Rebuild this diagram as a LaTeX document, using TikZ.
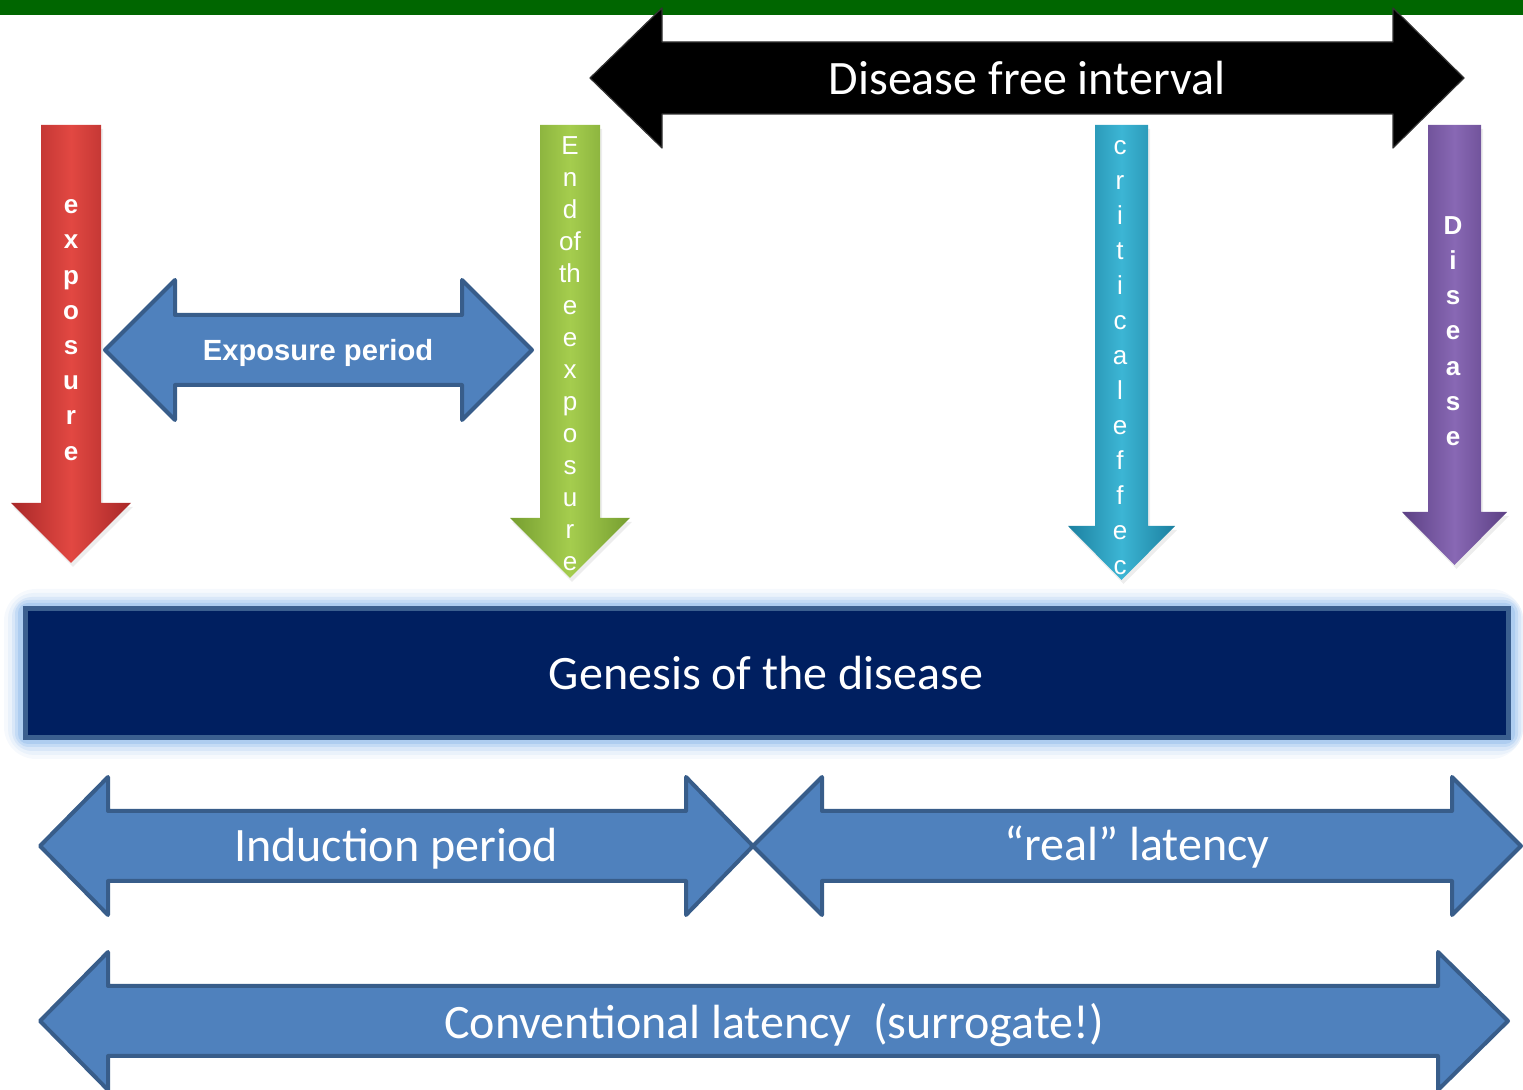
\documentclass[tikz,border=0pt]{standalone}
\usepackage{fontspec}
\setmainfont{Carlito}
\newfontfamily\arialf{Liberation Sans}
\definecolor{topgreen}{RGB}{0,102,0}
\definecolor{blfill}{RGB}{79,129,189}
\definecolor{bldraw}{RGB}{56,93,138}
\definecolor{navy}{RGB}{0,31,96}
\definecolor{navyedge}{RGB}{59,95,143}
\definecolor{glowc}{RGB}{160,196,238}
\definecolor{redA}{RGB}{226,72,66}
\definecolor{redB}{RGB}{168,40,40}
\definecolor{grnA}{RGB}{165,205,78}
\definecolor{grnB}{RGB}{118,158,48}
\definecolor{cyaA}{RGB}{60,182,212}
\definecolor{cyaB}{RGB}{28,128,160}
\definecolor{purA}{RGB}{136,104,180}
\definecolor{purB}{RGB}{92,64,132}
\newcommand\DArrow[8]{\path[#1] (#2,#6) -- (#3,#6-#7) -- (#3,#6-#8) -- (#4,#6-#8) -- (#4,#6-#7) -- (#5,#6) -- (#4,#6+#7) -- (#4,#6+#8) -- (#3,#6+#8) -- (#3,#6+#7) -- cycle;}
\newcommand\VArrow[8]{\path[#1] (#2,#4) -- (#3,#4) -- (#3,#5) -- (#7,#5) -- ({(#2+#3)/2},#8) -- (#6,#5) -- (#2,#5) -- cycle;}
\tikzset{
  bluearrow/.style={fill=blfill,draw=bldraw,line width=2pt,line join=round},
  blackarrow/.style={fill=black,draw=black!80,line width=0.6pt,line join=round},
  shadowarr/.style={fill=black,opacity=0.07},
  bigtext/.style={text=white,font=\fontsize{24}{28}\selectfont,inner sep=0pt},
  vtextb/.style={text=white,align=center,inner sep=0pt,font=\arialf\bfseries\fontsize{13}{17.6}\selectfont},
  vtextn/.style={text=white,align=center,inner sep=0pt,font=\arialf\fontsize{13}{16}\selectfont},
}
\begin{document}
\begin{tikzpicture}[x=0.5pt,y=-0.5pt]
\useasboundingbox (0,0) rectangle (1523,1090);
\clip (0,0) rectangle (1523,1090);
% top green bar
\fill[topgreen] (0,0) rectangle (1523,15);
% black double arrow
\DArrow{blackarrow}{590}{662}{1393}{1464}{78}{70}{36}
\node[bigtext] (dfi) at (1027,78) {Disease free interval};
% vertical arrows: shadows
\VArrow{shadowarr,shift={(1pt,-2pt)}}{41}{101}{125}{503}{11}{131}{563}
\VArrow{shadowarr,shift={(1pt,-2pt)}}{540}{600}{125}{518}{510}{630}{578}
\VArrow{shadowarr,shift={(1pt,-2pt)}}{1095}{1148}{125}{526}{1068}{1175}{580}
\VArrow{shadowarr,shift={(1pt,-2pt)}}{1428}{1481}{125}{512}{1402}{1507}{565}
% red
\VArrow{left color=redB,right color=redB,middle color=redA,line join=round}{41}{101}{125}{503}{11}{131}{563}
\node[vtextb] (expo) at (71,330) {e\\x\\p\\o\\s\\u\\r\\e};
% green
\VArrow{left color=grnB,right color=grnB,middle color=grnA,line join=round}{540}{600}{125}{518}{510}{630}{578}
\node[vtextn] (endexp) at (570,354) {E\\n\\d\\of\\th\\e\\e\\x\\p\\o\\s\\u\\r\\e};
% cyan
\VArrow{left color=cyaB,right color=cyaB,middle color=cyaA,line join=round}{1095}{1148}{125}{526}{1068}{1175}{580}
\node[vtextn,font=\arialf\fontsize{13}{17.5}\selectfont] (crit) at (1120,358) {c\\r\\i\\t\\i\\c\\a\\l\\e\\f\\f\\e\\c};
% purple
\VArrow{left color=purB,right color=purB,middle color=purA,line join=round}{1428}{1481}{125}{512}{1402}{1507}{565}
\node[vtextb] (dis) at (1453,331) {D\\i\\s\\e\\a\\s\\e};
% exposure period
\DArrow{bluearrow}{105}{175}{462}{532}{350}{70}{35}
\node[text=white,font=\arialf\bfseries\fontsize{14.6}{17}\selectfont,inner sep=0pt] (ep) at (318,353) {Exposure period};
% genesis box with glow
\fill[glowc!10,rounded corners=16pt] (4,589) rectangle (1523,759);
\fill[glowc!22,rounded corners=13pt] (8,593) rectangle (1523,755);
\fill[glowc!40,rounded corners=10pt] (12,597) rectangle (1521,751);
\fill[glowc!62,rounded corners=7pt] (15,600) rectangle (1518,747);
\fill[glowc!85,rounded corners=5pt] (18,603) rectangle (1515,744);
\draw[fill=navy,draw=navyedge,line width=2.5pt] (25,609) rectangle (1508,738);
\node[bigtext] (gen) at (766,673) {Genesis of the disease};
% bottom arrows
\DArrow{bluearrow}{40}{108}{686}{753}{846}{69}{35}
\node[bigtext] (ind) at (396,849) {Induction period};
\DArrow{bluearrow}{753}{822}{1452}{1521}{846}{69}{35}
\node[bigtext] (real) at (1137,847) {“real” latency};
\DArrow{bluearrow}{40}{108}{1438}{1508}{1021}{69}{35}
\node[bigtext] (conv) at (774,1025) {Conventional latency\ \ (surrogate!)};
\end{tikzpicture}
\end{document}
